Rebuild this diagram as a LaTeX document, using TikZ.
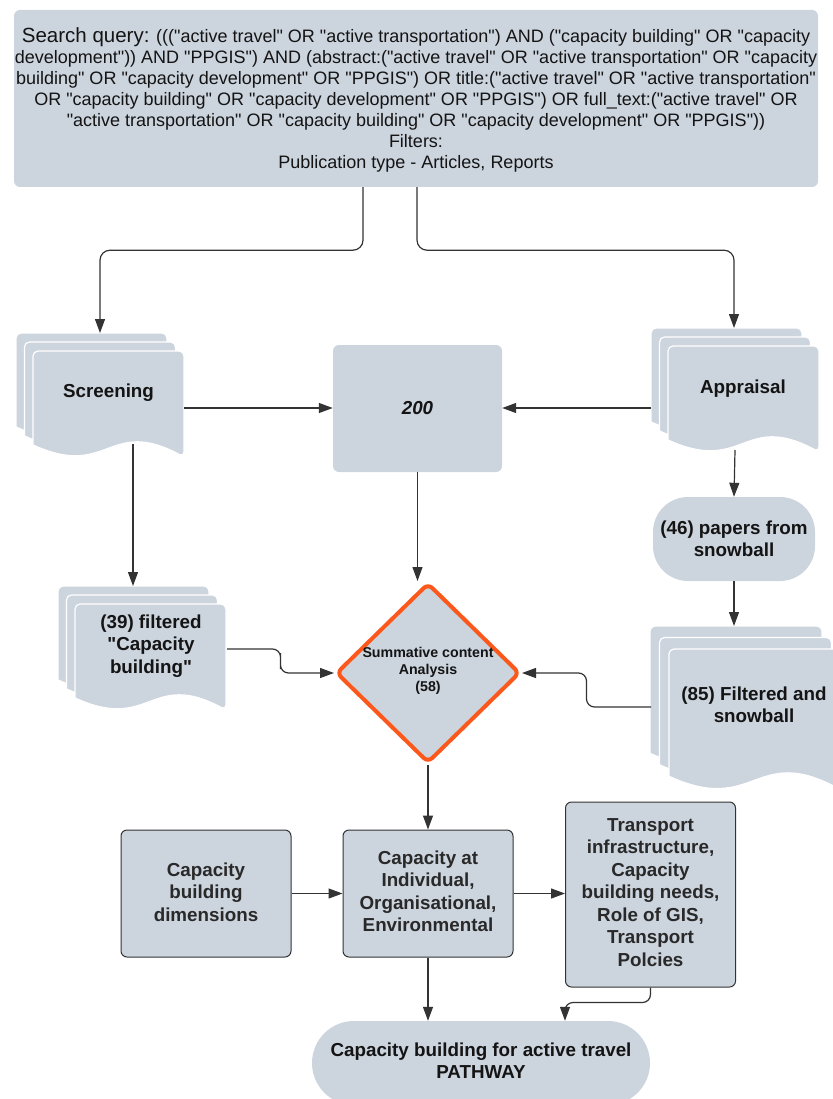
\documentclass[tikz,border=0pt]{standalone}
\usepackage{fontspec}
\setmainfont{Liberation Sans}[Ligatures=TeXOff]
\usetikzlibrary{arrows.meta,shapes.geometric,calc}
\definecolor{boxfill}{RGB}{204,212,222}
\definecolor{linec}{RGB}{51,51,51}
\definecolor{orangec}{RGB}{252,88,28}
\definecolor{txt}{RGB}{20,20,20}
\newcommand{\docsheet}[4]{%
 \pgfmathsetmacro\sxL{#1}\pgfmathsetmacro\sxT{#2}\pgfmathsetmacro\sxR{#3}\pgfmathsetmacro\sxB{#4}%
 \pgfmathsetmacro\sxW{\sxR-\sxL}\pgfmathsetmacro\sxM{\sxL+0.5*\sxW}%
 \pgfmathsetmacro\sxYa{\sxB-0.27*\sxW}\pgfmathsetmacro\sxYb{\sxB+0.15*\sxW}\pgfmathsetmacro\sxYl{\sxB-0.08*\sxW}%
 \path[sheet,rounded corners=5pt] (\sxL,\sxYl) -- (\sxL,\sxT) -- (\sxR,\sxT) -- (\sxR,\sxB) [sharp corners] .. controls (\sxM,\sxYa) and (\sxM,\sxYb) .. (\sxL,\sxYl) -- cycle;}
% L T W H dx dy
\newcommand{\docstack}[6]{%
 \docsheet{#1}{#2}{#1+#3}{#2+#4}%
 \docsheet{#1+#5}{#2+#6}{#1+#5+#3}{#2+#6+#4}%
 \docsheet{#1+2*#5}{#2+2*#6}{#1+2*#5+#3}{#2+2*#6+#4}}
\begin{document}
\begin{tikzpicture}[x=1pt,y=-1pt,
 conn/.style={draw=linec, line width=1.2pt, -{Triangle[length=14pt,width=10pt]}},
 plainbox/.style={fill=boxfill, rounded corners=6pt, inner sep=0pt},
 framebox/.style={plainbox, draw=linec, line width=1pt},
 btext/.style={font=\bfseries\fontsize{18.8}{22.5}\selectfont, align=center, text=txt},
 sheet/.style={fill=boxfill, draw=white, line width=1.2pt},
 stadium/.style={fill=boxfill, inner sep=0pt}]
\useasboundingbox (0,0) rectangle (832,1099);

% top query box
\node[plainbox, minimum width=804pt, minimum height=177pt] (query) at (416,98.5) {};
\node[align=center, text=txt, font=\fontsize{18}{21}\selectfont] (querytext) at (416,100)
 {{\fontsize{20.5}{21}\selectfont Search query:} ((("active travel" OR "active transportation") AND ("capacity building" OR "capacity\\
 development")) AND "PPGIS") AND (abstract:("active travel" OR "active transportation" OR "capacity\\
 building" OR "capacity development" OR "PPGIS") OR title:("active travel" OR "active transportation"\\
 OR "capacity building" OR "capacity development" OR "PPGIS") OR full\_text:("active travel" OR\\
 "active transportation" OR "capacity building" OR "capacity development" OR "PPGIS"))\\
 Filters:\\
 Publication type - Articles, Reports};

% document stacks
\docstack{16}{333}{151}{106}{8.5}{9}
\node[btext] (scr) at (108.5,393) {Screening};
\docstack{651}{328}{151}{106}{8.5}{9}
\node[btext] (app) at (743,389) {Appraisal};
\docstack{58}{586}{151}{106}{8.5}{9}
\node[btext] (f39) at (151,646) {(39) filtered\\"Capacity\\building"};
\docstack{650}{626}{172}{141}{9.5}{11.5}
\node[btext] (f85) at (754,705) {(85) Filtered and\\snowball};

\coordinate (scrin) at (100,333);
\coordinate (scrout) at (184,408);
\coordinate (scrdown) at (133,444);
\coordinate (appin) at (734,328);
\coordinate (appout) at (651,408);
\coordinate (appdown) at (735,450);
\coordinate (f39in) at (133,586);
\coordinate (f39out) at (227,649);
\coordinate (f85in) at (734,626);
\coordinate (f85out) at (651,707);

% box 200
\node[plainbox, minimum width=169pt, minimum height=127pt] (b200) at (417.5,408.5) {};
\node[font=\bfseries\itshape\fontsize{18.8}{22}\selectfont, text=txt] (b200t) at (417.5,408) {200};

% (46) stadium
\node[stadium, rounded corners=35pt, minimum width=162pt, minimum height=84pt] (s46) at (734,539) {};
\node[btext] (s46t) at (734,539) {(46) papers from\\snowball};

% diamond
\node[diamond, draw=orangec, line width=4pt, fill=boxfill, rounded corners=6pt,
 minimum width=184pt, minimum height=180pt, inner sep=0pt] (dia) at (428,673) {};
\node[font=\bfseries\fontsize{14.2}{17}\selectfont, align=center, text=txt] (diat) at (428,671)
 {Summative content\\Analysis\\(58)};

% bottom boxes
\node[framebox, minimum width=170pt, minimum height=127pt] (dim) at (206,893.5) {};
\node[btext, text=linec!80!black] (dimt) at (206,892) {Capacity\\building\\dimensions};
\node[framebox, minimum width=170pt, minimum height=127pt] (cap) at (428,893.5) {};
\node[btext, text=linec!80!black] (capt) at (428,891.5) {Capacity at\\Individual,\\Organisational,\\Environmental};
\node[framebox, minimum width=170pt, minimum height=185pt] (trans) at (650.5,894.5) {};
\node[btext, text=linec!80!black] (transt) at (650.5,892.5) {Transport\\infrastructure,\\Capacity\\building needs,\\Role of GIS,\\Transport\\Polcies};

% final stadium
\node[stadium, rounded corners=42pt, minimum width=338pt, minimum height=84pt] (pathw) at (481,1063) {};
\node[btext] (patht) at (481,1060.5) {Capacity building for active travel\\PATHWAY};

% connectors
\draw[conn, rounded corners=10pt] ([xshift=-53pt]query.south) -- ++(0,63) -| (scrin);
\draw[conn, rounded corners=10pt] ([xshift=1pt]query.south) -- ++(0,63) -| (appin);
\draw[conn] (scrout) -- (scrout -| b200.west);
\draw[conn] (appout) -- (appout -| b200.east);
\draw[conn] (b200.south) -- (b200.south |- dia.north);
\draw[conn] (scrdown) -- (f39in);
\draw[conn, rounded corners=8pt] (f39out) -| ($(f39out)!0.5!(dia.west)$) |- (dia.west);
\draw[conn, rounded corners=8pt] (f85out) -| ($(f85out)!0.5!(dia.east)$) |- (dia.east);
\draw[conn] (appdown) -- (s46.north);
\draw[conn] (s46.south) -- (f85in);
\draw[conn] (dia.south) -- (cap.north);
\draw[conn] (dim.east) -- (cap.west);
\draw[conn] (cap.east) -- (trans.west |- cap.east);
\draw[conn] (cap.south) -- (cap.south |- pathw.north);
\draw[conn, rounded corners=8pt] (trans.south) -- ++(0,15) -| (trans.west |- pathw.north);
\end{tikzpicture}
\end{document}
